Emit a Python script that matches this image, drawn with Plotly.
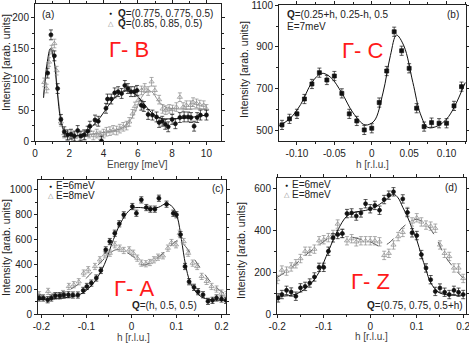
import plotly.graph_objects as go

W, H = 469, 345
FONT = "Liberation Sans, Arial, sans-serif"

# ---------------- Panel (a) ----------------
a_E1 = [0.74, 0.93, 1.13, 1.32, 1.51, 1.71, 1.9, 2.1, 2.29, 2.49, 2.68, 2.87, 3.07, 3.2, 3.5, 3.69, 3.88,
        4.14, 4.23, 4.45, 4.65, 4.85, 5.05, 5.24, 5.42, 5.6, 5.8, 5.95, 6.2, 6.35, 6.6, 6.85, 7.09, 7.24,
        7.42, 7.6, 7.77, 8.0, 8.19, 8.45, 8.7, 8.93, 9.1, 9.28, 9.46, 9.65, 10.0]
a_I1 = [110, 172, 138, 85, 35, 15, 10, 11, 8, 17, 8, 10, 16, 24, 34, 32, 0,
        53, 68, 68, 78, 80, 77, 90, 85, 80, 80, 82, 58, 56, 43, 42, 39, 30,
        32, 27, 23, 35, 28, 38, 39, 39, 38, 24, 38, 42, 42]
a_E2 = [0.54, 0.68, 0.82, 0.97, 1.13, 1.26, 1.51, 1.71, 1.9, 2.14, 2.33, 2.6, 2.9, 3.16, 3.4, 3.6, 3.8,
        4.0, 4.17, 4.37, 4.56, 4.76, 4.95, 5.15, 5.34, 5.5, 5.69, 5.83, 6.02, 6.21, 6.4, 6.6, 6.8, 6.99,
        7.24, 7.44, 7.63, 7.83, 8.02, 8.25, 8.45, 8.64, 8.83, 9.07, 9.22, 9.42, 9.61, 9.84, 10.0]
a_I2 = [95, 85, 128, 148, 158, 114, 31, 12, 8, 6, 6, 8, 9, 12, 9, 12, 9,
        12, 15, 16, 18, 17, 20, 23, 25, 31, 44, 56, 66, 82, 86, 81, 96, 82,
        67, 52, 50, 52, 51, 55, 71, 55, 58, 58, 63, 61, 59, 58, 52]
a_err1, a_err2 = 8, 7
a_fitE1 = [0.5, 0.7, 0.9, 1.1, 1.3, 1.5, 1.8, 2.2, 2.7, 3.2, 3.8, 4.3, 4.8, 5.3, 5.8, 6.3, 6.8, 7.3, 8.0, 9.0, 10.0]
a_fitI1 = [70, 125, 150, 132, 80, 35, 12, 8, 10, 20, 38, 58, 74, 81, 77, 62, 46, 37, 36, 38, 42]
a_fitE2 = [0.5, 0.75, 0.95, 1.15, 1.4, 1.7, 2.2, 3.0, 4.0, 4.8, 5.3, 5.8, 6.2, 6.5, 6.8, 7.2, 7.6, 8.2, 9.0, 10.0]
a_fitI2 = [75, 125, 150, 125, 60, 15, 8, 10, 14, 18, 25, 45, 70, 80, 80, 65, 55, 52, 52, 52]

# ---------------- Panel (b) ----------------
b_h = [-0.12, -0.11, -0.10, -0.09, -0.08, -0.07, -0.06, -0.05, -0.04, -0.03, -0.02, -0.01, 0.0,
       0.01, 0.02, 0.03, 0.04, 0.05, 0.06, 0.07, 0.08, 0.09, 0.10, 0.11, 0.12]
b_I = [527, 556, 580, 651, 723, 777, 742, 761, 678, 580, 546, 503, 511,
       634, 785, 973, 882, 798, 607, 519, 538, 535, 535, 618, 710]
b_err = 22
b_fit_h = [-0.125, -0.11, -0.095, -0.08, -0.067, -0.055, -0.04, -0.025, -0.009, 0.003, 0.015,
           0.025, 0.033, 0.043, 0.055, 0.065, 0.075, 0.088, 0.1, 0.11, 0.125]
b_fit_I = [522, 555, 625, 730, 774, 755, 680, 585, 527, 545, 680, 860, 957, 905, 730, 580, 515, 522, 555, 610, 730]

# ---------------- Panel (c) ----------------
c_h6 = [-0.205, -0.196, -0.186, -0.178, -0.169, -0.159, -0.15, -0.14, -0.13, -0.119, -0.107, -0.099, -0.089,
        -0.078, -0.068, -0.057, -0.048, -0.037, -0.027, -0.017, 0.002, 0.011, 0.022, 0.033, 0.042, 0.052,
        0.061, 0.078, 0.093, 0.1, 0.109, 0.119, 0.128, 0.139, 0.148, 0.159, 0.17, 0.18, 0.189, 0.2, 0.21]
c_I6 = [129, 129, 115, 129, 147, 147, 153, 155, 153, 153, 190, 222, 249,
        290, 351, 517, 584, 651, 727, 799, 866, 812, 920, 858, 845, 845,
        933, 885, 812, 800, 640, 383, 260, 215, 180, 155, 102, 110, 129, 121, 110]
c_h8 = [-0.205, -0.185, -0.174, -0.163, -0.152, -0.139, -0.128, -0.117, -0.106, -0.096, -0.081, -0.07,
        -0.059, -0.048, -0.037, -0.026, -0.017, -0.005, 0.004, 0.013, 0.022, 0.032, 0.041, 0.05, 0.059,
        0.07, 0.081, 0.089, 0.099, 0.107, 0.116, 0.126, 0.136, 0.146, 0.156, 0.167, 0.178, 0.189, 0.2, 0.211]
c_I8 = [155, 182, 142, 147, 165, 222, 236, 260, 330, 357, 383, 437,
        477, 490, 558, 531, 512, 517, 490, 450, 410, 405, 415, 437, 458,
        469, 531, 576, 558, 651, 584, 490, 410, 383, 303, 263, 222, 201, 169, 155]
c_err6, c_err8 = 25, 25
c_fit_h6 = [-0.21, -0.15, -0.12, -0.1, -0.08, -0.06, -0.04, -0.02, 0.0, 0.02, 0.04, 0.06, 0.078, 0.092,
            0.102, 0.111, 0.12, 0.13, 0.145, 0.16, 0.18, 0.21]
c_fit_I6 = [115, 130, 150, 190, 270, 400, 600, 760, 848, 858, 850, 860, 890, 860, 780, 600, 400, 260, 170, 130, 115, 110]
c_fit_h8 = [-0.21, -0.17, -0.14, -0.1, -0.07, -0.04, -0.03, -0.01, 0.01, 0.025, 0.045, 0.07, 0.09, 0.105,
            0.12, 0.14, 0.16, 0.18, 0.2, 0.21]
c_fit_I8 = [120, 145, 190, 290, 410, 510, 518, 495, 445, 395, 420, 490, 560, 595, 545, 440, 335, 240, 180, 160]

# ---------------- Panel (d) ----------------
d_h6 = [-0.198, -0.19, -0.18, -0.17, -0.16, -0.15, -0.14, -0.13, -0.12, -0.11, -0.10, -0.09, -0.08, -0.07,
        -0.06, -0.05, -0.04, -0.03, -0.02, -0.01, 0.0, 0.01, 0.02, 0.03, 0.04, 0.05, 0.07, 0.08, 0.09,
        0.10, 0.11, 0.12, 0.13, 0.14, 0.15, 0.16, 0.17, 0.18, 0.19, 0.2]
d_I6 = [77, 93, 113, 105, 85, 125, 132, 148, 177, 223, 223, 300, 364, 380,
        385, 480, 483, 468, 483, 527, 503, 519, 496, 547, 568, 584, 550, 485, 388,
        375, 284, 220, 164, 108, 124, 104, 93, 113, 104, 93]
d_h8 = [-0.2, -0.19, -0.18, -0.17, -0.16, -0.15, -0.14, -0.13, -0.12, -0.11, -0.10, -0.09, -0.08, -0.07,
        -0.06, -0.05, -0.04, -0.03, -0.02, -0.01, 0.0, 0.01, 0.02, 0.03, 0.04, 0.05, 0.06, 0.07, 0.08,
        0.09, 0.10, 0.11, 0.12, 0.13, 0.14, 0.15, 0.16, 0.17, 0.18, 0.19, 0.2]
d_I8 = [165, 210, 205, 225, 240, 265, 300, 300, 310, 350, 355, 365, 380, 430,
        385, 350, 360, 345, 350, 350, 350, 350, 345, 280, 290, 330, 370, 390, 490,
        440, 460, 440, 425, 420, 410, 330, 290, 275, 220, 220, 170]
d_err6, d_err8 = 20, 20
d_fit_h6 = [-0.2, -0.16, -0.13, -0.11, -0.09, -0.07, -0.05, -0.03, -0.01, 0.01, 0.03, 0.05, 0.06, 0.07,
            0.08, 0.09, 0.1, 0.11, 0.12, 0.13, 0.15, 0.2]
d_fit_I6 = [85, 95, 140, 200, 300, 400, 468, 488, 495, 510, 540, 572, 555, 510, 465, 410, 355, 280, 212, 150, 100, 90]
d_fit_h8 = [-0.2, -0.17, -0.14, -0.11, -0.08, -0.06, -0.03, 0.0, 0.02, 0.035, 0.05, 0.07, 0.09, 0.1,
            0.12, 0.14, 0.16, 0.18, 0.2]
d_fit_I8 = [175, 220, 280, 330, 375, 380, 362, 345, 325, 332, 360, 415, 445, 452, 430, 370, 280, 220, 172]

# ---------------- tick labels ----------------
a_xt = [0, 2, 4, 6, 8, 10]
a_yt = [0, 50, 100, 150, 200]
b_xt = [-0.10, -0.05, 0.0, 0.05, 0.10]
b_xl = ["-0.10", "-0.05", "0", "0.05", "0.10"]
b_yt = [500, 700, 900, 1100]
cd_xt = [-0.2, -0.1, 0.0, 0.1, 0.2]
cd_xl = ["-0.2", "-0.1", "0", "0.1", "0.2"]
c_yt = [0, 200, 400, 600, 800, 1000]
d_yt = [0, 200, 400, 600]

BLACK = "#111111"
GRAY = "#8a8a8a"

fig = go.Figure()


def add_pts(x, y, err, xa, ya, symbol, color, size):
    fig.add_trace(go.Scatter(
        x=x, y=y, mode="markers", xaxis=xa, yaxis=ya, showlegend=False,
        marker=dict(symbol=symbol, size=size, color=color, line=dict(color=color, width=0.7)),
        error_y=dict(type="constant", value=err, color=color, thickness=0.7, width=2)))


def add_fit(x, y, xa, ya, color, dash, width=1.0):
    fig.add_trace(go.Scatter(
        x=x, y=y, mode="lines", xaxis=xa, yaxis=ya, showlegend=False,
        line=dict(color=color, width=width, dash=dash, shape="spline", smoothing=1.0)))


# (a)
add_fit(a_fitE2, a_fitI2, "x", "y", GRAY, "solid", 0.9)
add_fit(a_fitE1, a_fitI1, "x", "y", BLACK, "solid", 1.0)
add_pts(a_E2, a_I2, a_err2, "x", "y", "triangle-up-open", GRAY, 4.5)
add_pts(a_E1, a_I1, a_err1, "x", "y", "circle", BLACK, 4)
# (b)
add_fit(b_fit_h, b_fit_I, "x2", "y2", BLACK, "solid", 1.0)
add_pts(b_h, b_I, b_err, "x2", "y2", "square", BLACK, 4)
# (c)
add_fit(c_fit_h8, c_fit_I8, "x3", "y3", "#444444", "dash", 0.9)
add_fit(c_fit_h6, c_fit_I6, "x3", "y3", BLACK, "solid", 1.0)
add_pts(c_h8, c_I8, c_err8, "x3", "y3", "triangle-up-open", GRAY, 4.5)
add_pts(c_h6, c_I6, c_err6, "x3", "y3", "circle", BLACK, 4)
# (d)
add_fit(d_fit_h8, d_fit_I8, "x4", "y4", "#444444", "dash", 0.9)
add_fit(d_fit_h6, d_fit_I6, "x4", "y4", BLACK, "solid", 1.0)
add_pts(d_h8, d_I8, d_err8, "x4", "y4", "triangle-up-open", GRAY, 4.5)
add_pts(d_h6, d_I6, d_err6, "x4", "y4", "circle", BLACK, 4)


def px_x(p):
    return p / W


def px_y(p):
    return 1 - p / H


def axis(dom, rng, tickvals, ticktext=None, anchor=None, minor_dtick=None):
    d = dict(domain=dom, range=rng, showline=True, linecolor="#222222", linewidth=1,
             mirror="ticks", ticks="outside", ticklen=3, tickwidth=1, tickcolor="#222222",
             showgrid=False, zeroline=False, tickvals=tickvals, automargin=False,
             ticklabeloverflow="allow",
             tickfont=dict(size=10, color="#222222", family=FONT), anchor=anchor)
    if ticktext is not None:
        d["ticktext"] = ticktext
    if minor_dtick is not None:
        d["minor"] = dict(ticks="outside", ticklen=2, tickcolor="#222222", dtick=minor_dtick, showgrid=False)
    return d


fig.update_layout(
    width=W, height=H, margin=dict(l=0, r=0, t=0, b=0, autoexpand=False),
    paper_bgcolor="white", plot_bgcolor="white", showlegend=False,
    font=dict(family=FONT, size=10, color="#222222"),
    xaxis=axis([px_x(35), px_x(221)], [0, 10.85], a_xt, anchor="y", minor_dtick=1),
    yaxis=axis([px_y(141), px_y(4)], [0, 222], a_yt, anchor="x", minor_dtick=25),
    xaxis2=axis([px_x(279), px_x(466)], [-0.124, 0.126], b_xt, b_xl, anchor="y2", minor_dtick=0.025),
    yaxis2=axis([px_y(141), px_y(5)], [450, 1101], b_yt, anchor="x2", minor_dtick=100),
    xaxis3=axis([px_x(38), px_x(226)], [-0.2075, 0.21], cd_xt, cd_xl, anchor="y3", minor_dtick=0.05),
    yaxis3=axis([px_y(314), px_y(180)], [0, 1080], c_yt, anchor="x3", minor_dtick=100),
    xaxis4=axis([px_x(277), px_x(466)], [-0.2005, 0.206], cd_xt, cd_xl, anchor="y4", minor_dtick=0.05),
    yaxis4=axis([px_y(314), px_y(178)], [0, 650], d_yt, anchor="x4", minor_dtick=100),
)

ann = []


def txt(x, y, s, size=10, color="#222222", xanchor="center", angle=0):
    ann.append(dict(x=px_x(x), y=px_y(y), xref="paper", yref="paper", text=s, showarrow=False,
                    xanchor=xanchor, yanchor="middle", textangle=angle,
                    font=dict(size=size, color=color, family=FONT)))


# axis titles
TC = "#444444"
txt(137, 164, "Energy [meV]", 10, TC)
txt(372, 164, "h [r.l.u.]", 10, TC)
txt(133, 337, "h [r.l.u.]", 10, TC)
txt(371, 336, "h [r.l.u.]", 10, TC)
txt(6, 63, "Intensity [arab. units]", 10.5, "#222222", angle=-90)
txt(244, 70, "Intensity [arab. units]", 10.5, "#222222", angle=-90)
txt(6, 248, "Intensity [arab. units]", 10.5, "#222222", angle=-90)
txt(241, 250, "Intensity [arab. units]", 10.5, "#222222", angle=-90)

# panel labels
txt(48, 15, "(a)", 10)
txt(453, 14, "(b)", 10)
txt(218, 188, "(c)", 10)
txt(451, 187, "(d)", 10)

# legends
txt(110.5, 13.5, "●", 5, BLACK)
txt(115.5, 13.5, "<b>Q</b>=(0.775, 0.775, 0.5)", 10, "#222222", "left")
txt(110.5, 23.5, "△", 7, GRAY)
txt(115.5, 23.5, "<b>Q</b>=(0.85, 0.85, 0.5)", 10, "#222222", "left")

txt(50.5, 185.5, "●", 5, BLACK)
txt(54, 185.5, "E=6meV", 10, "#222222", "left")
txt(50.5, 195.5, "△", 7, GRAY)
txt(54, 195.5, "E=8meV", 10, "#222222", "left")

txt(286.5, 184.5, "●", 5, BLACK)
txt(290, 184.5, "E=6meV", 10, "#222222", "left")
txt(286.5, 194.5, "△", 7, GRAY)
txt(290, 194.5, "E=8meV", 10, "#222222", "left")

# other texts
txt(284.5, 14, "<b>Q</b>=(0.25+h, 0.25-h, 0.5", 10, "#222222", "left")
txt(284.5, 27, "E=7meV", 10, "#222222", "left")
txt(130, 305.5, "<b>Q</b>=(h, 0.5, 0.5)", 10, "#222222", "left")
txt(364.5, 305, "<b>Q</b>=(0.75, 0.75, 0.5+h)", 10, "#222222", "left")

RED = "#ff1a1a"
txt(129, 49.5, "Γ- B", 22, RED)
txt(363, 50.5, "Γ- C", 22, RED)
txt(134, 288.5, "Γ- A", 22, RED)
txt(370, 281.5, "Γ- Z", 22, RED)

fig.update_layout(annotations=ann)
fig.write_html("out.html", config={"displayModeBar": False},
               post_script="document.body.style.margin='0';document.body.style.padding='0';")
